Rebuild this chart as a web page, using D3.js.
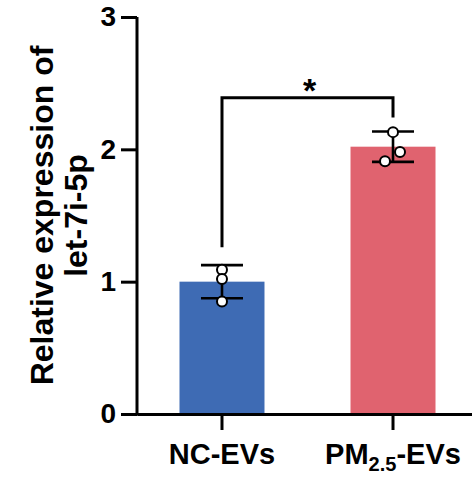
<!DOCTYPE html>
<html>
<head>
<meta charset="utf-8">
<script src="https://cdn.jsdelivr.net/npm/d3@7"></script>
<style>
  html, body { margin: 0; padding: 0; background: #fff; }
  svg { display: block; font-family: "Liberation Sans", Arial, Helvetica, sans-serif; font-weight: bold; }
</style>
</head>
<body>
<svg id="chart" width="472" height="480"></svg>
<script>
// ---- data ----
const categories = ["NC-EVs", "PM2.5-EVs"];
const means = [1.00, 2.02];
const sds = [0.125, 0.115];
const pointsNC = [1.09, 1.02, 0.85];
const pointsPM = [2.13, 1.98, 1.91];
const pointJitter = [[0, 0, 0], [0, 7, -8]];
const barColors = ["#3e6bb4", "#e0636f"];
const yTicks = [0, 1, 2, 3];
const yDomain = [0, 3];
const bracket = { left: 1.26, top: 2.39, right: 2.24, label: "*" };
const yTitle = ["Relative expression of", "let-7i-5p"];

// ---- layout ----
const svg = d3.select("#chart");
const y = d3.scaleLinear().domain(yDomain).range([414, 17]);
const x = d3.scaleBand().domain(categories).range([137, 478])
  .paddingInner(0.503).paddingOuter(0.2485);
const cx = c => x(c) + x.bandwidth() / 2;

// bars
svg.selectAll("rect.bar").data(categories).join("rect")
  .attr("class", "bar")
  .attr("x", d => x(d))
  .attr("width", x.bandwidth())
  .attr("y", (d, i) => y(means[i]))
  .attr("height", (d, i) => y(0) - y(means[i]))
  .attr("fill", (d, i) => barColors[i]);

// error bars
const capW = 42;
const eb = svg.append("g").attr("stroke", "#000").attr("stroke-width", 2.6).attr("fill", "none");
categories.forEach((c, i) => {
  const xc = cx(c);
  eb.append("line").attr("x1", xc).attr("x2", xc).attr("y1", y(means[i] + sds[i])).attr("y2", y(means[i] - sds[i]));
  eb.append("line").attr("x1", xc - capW / 2).attr("x2", xc + capW / 2).attr("y1", y(means[i] + sds[i])).attr("y2", y(means[i] + sds[i]));
  eb.append("line").attr("x1", xc - capW / 2).attr("x2", xc + capW / 2).attr("y1", y(means[i] - sds[i])).attr("y2", y(means[i] - sds[i]));
});

// points
const allPoints = [pointsNC, pointsPM];
allPoints.forEach((pts, i) => {
  svg.append("g").selectAll("circle").data(pts).join("circle")
    .attr("cx", (d, j) => cx(categories[i]) + pointJitter[i][j])
    .attr("cy", d => y(d))
    .attr("r", 5)
    .attr("fill", "#fff")
    .attr("stroke", "#000")
    .attr("stroke-width", 2);
});

// significance bracket
const xl = cx(categories[0]), xr = cx(categories[1]);
svg.append("path")
  .attr("d", `M${xl},${y(bracket.left)}V${y(bracket.top)}H${xr}V${y(bracket.right)}`)
  .attr("fill", "none").attr("stroke", "#000").attr("stroke-width", 3);
svg.append("text")
  .attr("x", (xl + xr) / 2 + 2).attr("y", y(bracket.top) + 4)
  .attr("text-anchor", "middle").attr("font-size", 34)
  .text(bracket.label);

// y axis
const yAxis = svg.append("g").attr("transform", "translate(137,0)")
  .call(d3.axisLeft(y).tickValues(yTicks).tickSize(16).tickPadding(5).tickFormat(d3.format("d")));
yAxis.selectAll("text").attr("font-size", 28).attr("font-family", null).attr("fill", "#000");

// x axis
const xAxis = svg.append("g").attr("transform", "translate(0,414)")
  .call(d3.axisBottom(x).tickSize(16).tickSizeOuter(0).tickFormat(""));
[yAxis, xAxis].forEach(g => {
  g.select(".domain").attr("stroke-width", 3).attr("stroke", "#000");
  g.selectAll(".tick line").attr("stroke-width", 3).attr("stroke", "#000");
});
yAxis.select(".domain").attr("d", `M-0,${y(3)}H0V${y(0) + 1.5}`);

// x labels
const xl0 = xAxis.selectAll(".tick").append("text")
  .attr("y", 50).attr("fill", "#000").attr("font-size", 29).attr("text-anchor", "middle");
xl0.each(function(d) {
  const t = d3.select(this);
  if (d === "PM2.5-EVs") {
    t.append("tspan").text("PM");
    t.append("tspan").attr("font-size", 20).attr("dy", 7).text("2.5");
    t.append("tspan").attr("dy", -7).text("-EVs");
  } else {
    t.text(d);
  }
});

// y title
const yt = svg.append("text")
  .attr("transform", `translate(0,${(y(0) + y(3)) / 2}) rotate(-90)`)
  .attr("text-anchor", "middle").attr("font-size", 32).attr("fill", "#000");
yt.append("tspan").attr("x", 0).attr("y", 53).text(yTitle[0]);
yt.append("tspan").attr("x", 0).attr("y", 87).text(yTitle[1]);
</script>
</body>
</html>
